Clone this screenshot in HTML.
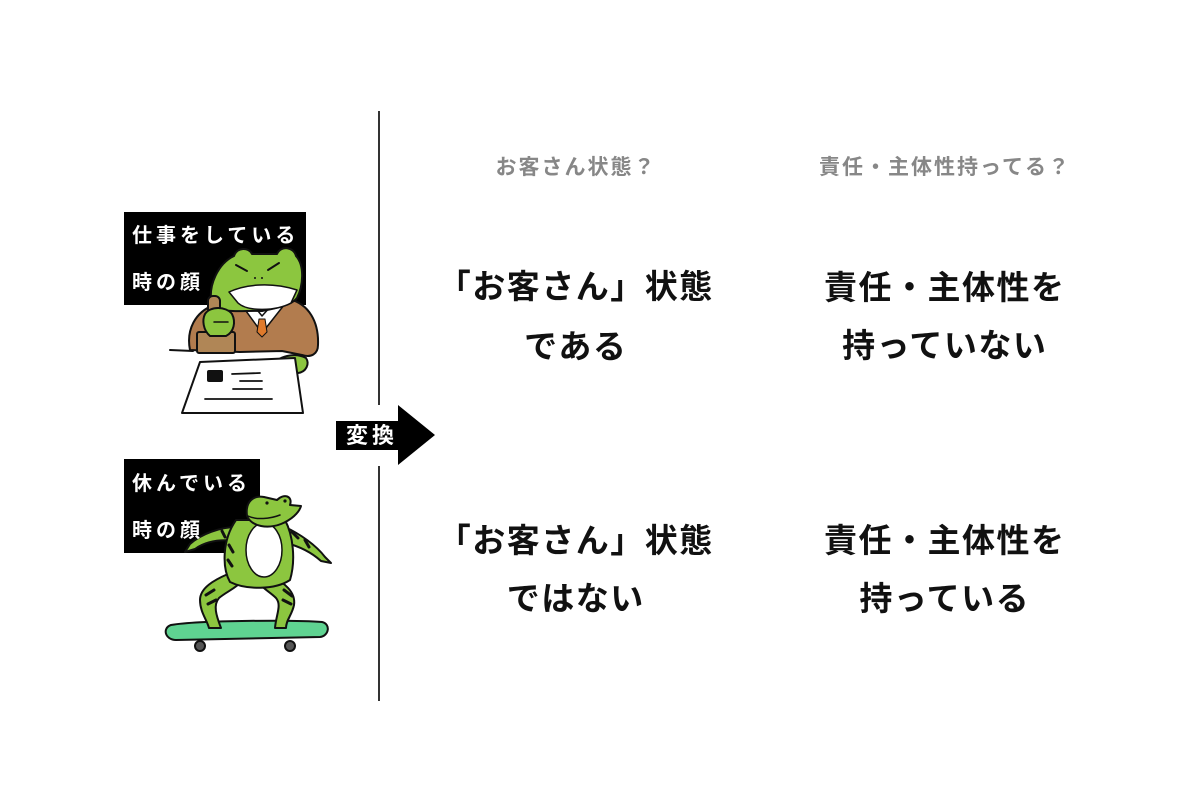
<!DOCTYPE html>
<html><head><meta charset="utf-8">
<style>
html,body{margin:0;padding:0;background:#fff;}
#c{position:relative;width:1200px;height:785px;overflow:hidden;background:#fff;font-family:"Liberation Sans","Noto Sans CJK JP",sans-serif;font-weight:700;}
.t{position:absolute;white-space:nowrap;line-height:1;}
.hd{font-size:21px;letter-spacing:2px;color:#878787;width:400px;text-align:center;padding-left:2px;box-sizing:border-box;}
.big{font-size:33px;letter-spacing:1.5px;color:#111;width:400px;text-align:center;padding-left:1.5px;box-sizing:border-box;}
.lb{font-size:20px;letter-spacing:4px;color:#fff;}
svg{position:absolute;left:0;top:0;}
</style></head>
<body><div id="c">
<svg width="1200" height="785" viewBox="0 0 1200 785">
  <rect x="378" y="111" width="2" height="294" fill="#333"/>
  <rect x="378" y="466" width="2" height="235" fill="#333"/>
  <polygon points="336,421 398,421 398,405 435,435 398,465 398,450 336,450" fill="#000"/>
  <rect x="124" y="212" width="182" height="93" fill="#000"/>
  <rect x="124" y="459" width="136" height="94" fill="#000"/>

  <g stroke="#111" stroke-width="2" stroke-linejoin="round" stroke-linecap="round">
    <line x1="170" y1="350" x2="193" y2="351" fill="none"/>
    <line x1="236" y1="351" x2="300" y2="349" fill="none"/>
    <path d="M190 350 C186 330,195 312,214 305 L238 299 L262 330 L289 299 C309 304,319 322,318 345 C318 354,311 358,302 355 L282 351 L240 352 Z" fill="#b27c4e"/>
    <polygon points="238,300 262,333 288,300 280,296 262,316 246,296" fill="#fff" stroke-width="1.5"/>
    <polygon points="259,319 265,319 267,332 262,337 257,332" fill="#e07a2b" stroke-width="1"/>
    <path d="M212 306 C207 285,219 263,234 256 C237 247,249 247,252 254 L277 254 C281 245,294 247,296 256 C305 266,303 286,297 298 C291 306,272 309,262 311 C245 310,226 314,212 306 Z" fill="#8cc63f"/>
    <path d="M229 292 C246 284,272 282,297 290 L291 303 C276 311,248 312,238 303 Z" fill="#fff" stroke-width="1.5"/>
    <line x1="236" y1="265" x2="247" y2="271" fill="none"/>
    <line x1="268" y1="270" x2="279" y2="263" fill="none"/>
    <circle cx="255" cy="278" r="1" fill="#111" stroke="none"/>
    <circle cx="262" cy="278" r="1" fill="#111" stroke="none"/>
    <rect x="197" y="332" width="38" height="21" rx="2" fill="#b08656"/>
    <rect x="208" y="296" width="12" height="18" rx="5" fill="#b08656"/>
    <path d="M205 314 C210 306,226 306,232 314 C236 322,234 332,226 336 L210 336 C203 330,202 320,205 314 Z" fill="#8cc63f"/>
    <line x1="214" y1="322" x2="228" y2="322" fill="none" stroke-width="1.5"/>
    <path d="M272 366 C278 356,295 352,306 358 C310 364,306 372,298 373 L276 373 C270 372,270 369,272 366 Z" fill="#8cc63f"/>
    <polygon points="200,362 295,358 303,413 182,413" fill="#fff"/>
    <rect x="207" y="370" width="16" height="12" rx="2" fill="#111" stroke="none"/>
    <line x1="232" y1="374" x2="260" y2="373" fill="none" stroke-width="1.8"/>
    <line x1="240" y1="381" x2="262" y2="381" fill="none" stroke-width="1.8"/>
    <line x1="233" y1="389" x2="262" y2="389" fill="none" stroke-width="1.8"/>
    <line x1="205" y1="399" x2="272" y2="399" fill="none" stroke-width="1.8"/>
  </g>

  <g stroke="#111" stroke-width="2" stroke-linejoin="round" stroke-linecap="round">
    <path d="M171 625 C200 620,300 620,322 622 C331 624,329 636,320 637 L176 640 C165 640,162 628,171 625 Z" fill="#5fd391"/>
    <circle cx="200" cy="646" r="5" fill="#555"/>
    <circle cx="290" cy="646" r="5" fill="#555"/>
    <path d="M237 527 C220 527,201 534,190 544 L185 552 L195 549 C206 541,220 539,237 541 Z" fill="#8cc63f"/>
    <path d="M285 527 C300 534,316 545,325 557 L331 563 L321 561 C311 552,298 546,286 543 Z" fill="#8cc63f"/>
    <path d="M228 574 C214 580,200 588,200 600 C200 612,207 620,209 628 L221 628 C216 615,213 605,219 598 C226 592,236 588,241 582 Z" fill="#8cc63f"/>
    <path d="M270 576 C284 582,296 592,294 605 C292 615,286 620,286 628 L275 628 C276 615,282 605,276 598 C270 592,262 588,258 582 Z" fill="#8cc63f"/>
    <path d="M236 520 C222 540,222 568,230 582 C246 590,275 590,290 580 C296 560,293 535,285 520 Z" fill="#8cc63f"/>
    <ellipse cx="264" cy="550" rx="18" ry="27" fill="#fff" stroke-width="1.5"/>
    <path d="M247 516 C245 501,254 495,264 497 L277 500 C284 493,293 496,290 505 L301 506 C299 513,291 520,281 524 C268 529,252 527,247 516 Z" fill="#8cc63f"/>
    <circle cx="267" cy="503" r="1.6" fill="#111" stroke="none"/>
    <circle cx="285" cy="501" r="1.6" fill="#111" stroke="none"/>
    <path d="M248 516 C256 520,270 519,280 515" fill="none" stroke-width="1.5"/>
    <g stroke-width="3">
      <line x1="206" y1="595" x2="214" y2="590" fill="none"/>
      <line x1="208" y1="604" x2="216" y2="600" fill="none"/>
      <line x1="284" y1="590" x2="292" y2="596" fill="none"/>
      <line x1="283" y1="600" x2="291" y2="604" fill="none"/>
      <line x1="229" y1="545" x2="233" y2="552" fill="none"/>
      <line x1="228" y1="560" x2="232" y2="566" fill="none"/>
      <line x1="292" y1="532" x2="298" y2="538" fill="none"/>
      <line x1="305" y1="540" x2="309" y2="547" fill="none"/>
      <line x1="222" y1="531" x2="225" y2="537" fill="none"/>
    </g>
  </g>
</svg>

<div class="t lb" style="left:132px;top:226px;">仕事をしている</div>
<div class="t lb" style="left:132px;top:273px;">時の顔</div>
<div class="t lb" style="left:132px;top:474px;">休んでいる</div>
<div class="t lb" style="left:132px;top:521px;">時の顔</div>
<div class="t" style="left:346px;top:425px;font-size:22px;letter-spacing:4px;color:#fff;">変換</div>

<div class="t hd" style="left:375px;top:157px;">お客さん状態？</div>
<div class="t hd" style="left:744px;top:157px;">責任・主体性持ってる？</div>

<div class="t big" style="left:375px;top:270px;">「お客さん」状態</div>
<div class="t big" style="left:375px;top:330px;">である</div>
<div class="t big" style="left:744px;top:271px;">責任・主体性を</div>
<div class="t big" style="left:744px;top:329px;">持っていない</div>

<div class="t big" style="left:375px;top:524px;">「お客さん」状態</div>
<div class="t big" style="left:375px;top:582px;">ではない</div>
<div class="t big" style="left:744px;top:524px;">責任・主体性を</div>
<div class="t big" style="left:744px;top:582px;">持っている</div>
</div></body></html>
